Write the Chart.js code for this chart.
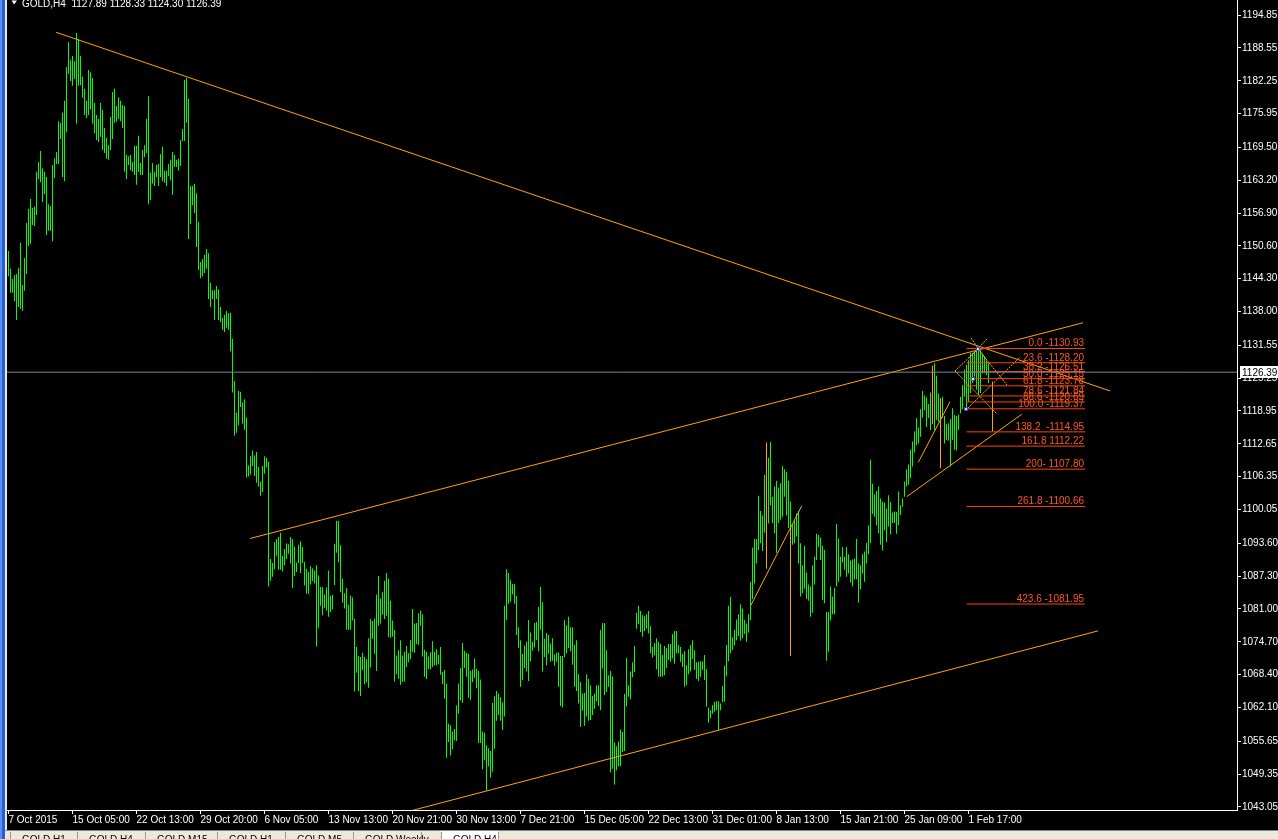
<!DOCTYPE html>
<html>
<head>
<meta charset="utf-8">
<script src="https://cdn.jsdelivr.net/npm/chart.js@4.4.1/dist/chart.umd.min.js"></script>
<style>
  html, body { margin: 0; padding: 0; background: #000; overflow: hidden; }
  canvas { display: block; }
</style>
</head>
<body>
<canvas id="chart" width="1278" height="839"></canvas>
<script>
const symbolTitle = 'GOLD,H4';
const lastOHLC = [1127.89, 1128.33, 1124.30, 1126.39];

const priceTicks = [1194.85, 1188.55, 1182.25, 1175.95, 1169.50, 1163.20, 1156.90, 1150.60, 1144.30,
  1138.00, 1131.55, 1125.25, 1118.95, 1112.65, 1106.35, 1100.05, 1093.60, 1087.30, 1081.00,
  1074.70, 1068.40, 1062.10, 1055.65, 1049.35, 1043.05];
const dateLabels = ['7 Oct 2015', '15 Oct 05:00', '22 Oct 13:00', '29 Oct 20:00', '6 Nov 05:00',
  '13 Nov 13:00', '20 Nov 21:00', '30 Nov 13:00', '7 Dec 21:00', '15 Dec 05:00', '22 Dec 13:00',
  '31 Dec 01:00', '8 Jan 13:00', '15 Jan 21:00', '25 Jan 09:00', '1 Feb 17:00'];
const dateTickStep = 32; // bars between time labels

// H4 bar highs, oldest first
const highs = [
  1149.6,1146.2,1144.3,1145.0,1145.2,1146.4,1151.2,1143.1,1148.3,1155.0,
  1157.7,1159.6,1157.9,1158.1,1164.8,1166.7,1168.8,1165.5,1164.8,1163.8,
  1158.6,1158.2,1166.1,1167.4,1168.6,1174.5,1174.2,1176.1,1178.4,1184.9,
  1189.7,1186.2,1187.0,1186.0,1191.4,1190.3,1187.0,1183.0,1180.7,1178.4,
  1184.3,1183.9,1182.8,1178.0,1175.7,1174.9,1178.0,1176.7,1173.2,1171.3,
  1169.9,1175.3,1180.1,1180.7,1177.4,1179.1,1178.4,1177.6,1177.4,1168.0,
  1167.8,1168.0,1166.7,1169.8,1169.8,1171.7,1166.5,1169.0,1169.9,1174.9,
  1179.3,1164.6,1166.5,1164.8,1166.1,1166.3,1168.2,1169.6,1165.0,1165.0,
  1166.3,1167.1,1168.6,1168.0,1167.1,1167.3,1170.9,1173.0,1182.4,1182.8,
  1178.8,1162.1,1162.1,1162.5,1160.7,1155.2,1147.5,1148.1,1148.9,1150.0,
  1149.2,1143.5,1142.1,1142.1,1142.9,1142.3,1138.9,1136.8,1137.4,1138.1,
  1137.7,
  1137.8,1132.8,1124.7,1118.6,1122.8,1122.6,1120.6,1121.2,1117.7,1108.5,
  1110.3,1111.4,1110.4,1111.1,1108.2,1105.4,1108.4,1110.3,1110.0,1109.2,
  1090.6,1089.8,1093.8,1094.4,1094.8,1095.6,1091.2,1092.5,1093.6,1093.4,
  1094.8,1094.4,1093.0,1089.9,1093.3,1094.0,1092.9,1090.0,1088.7,1088.1,
  1089.2,1088.8,1088.4,1089.4,1087.4,1085.2,1085.2,1083.8,1085.1,1088.4,
  1083.5,1083.7,1093.5,1097.9,1097.9,1093.2,1086.8,1084.0,1085.0,1081.8,
  1083.6,1083.2,1079.2,1073.7,1072.0,1071.8,1072.6,1071.8,1071.4,1075.4,
  1079.1,1078.7,1079.2,1083.8,1087.3,1083.0,1084.3,1086.4,1087.9,1086.8,
  1082.6,1078.8,1077.0,1072.1,1073.1,1075.0,1072.1,1072.8,1073.9,1072.5,
  1075.0,1081.0,1078.2,1078.3,1080.2,1080.7,1080.0,1073.2,1072.8,1071.9,
  1072.7,1074.8,1072.8,1073.3,1072.2,1073.7,1068.9,1069.3,1066.7,1059.0,
  1058.7,1057.5,1058.0,1062.5,1066.7,1069.7,1074.5,1073.0,1072.6,1072.4,
  1069.1,1069.4,1071.5,1069.5,1069.1,1067.5,1057.5,1057.3,1054.9,1054.3,
  1053.8,1063.0,1064.3,1065.3,1064.8,1064.1,1063.1,1081.6,1088.6,1087.9,
  1086.5,1085.8,1085.8,1083.5,1077.5,1075.0,1072.4,1074.0,1074.7,1078.9,
  1076.5,1074.7,1078.3,1078.5,1081.4,1085.2,1082.3,1075.3,1076.4,1076.0,
  1074.4,1075.4,1072.3,1072.6,1072.7,1072.0,1072.0,1078.9,1077.9,1079.5,
  1077.5,1077.5,1074.1,1075.0,1068.5,1067.0,1064.8,1064.9,1068.5,1067.6,
  1066.4,1064.3,1064.8,1066.4,1066.4,1077.0,1078.3,1078.3,1073.1,1068.3,
  1069.1,1068.1,1055.4,1054.7,1055.6,1057.9,1057.4,1064.7,1071.6,1066.4,
  1069.0,1070.8,1073.9,1080.3,1081.6,1080.6,1079.8,1079.6,1080.0,1080.6,
  1077.7,1073.7,1074.5,1075.4,1074.7,1074.3,1072.2,1073.9,1073.5,1074.3,
  1074.3,1076.2,1076.8,1076.8,1074.1,1073.7,1072.4,1072.9,1070.2,1073.3,
  1074.1,1075.0,1073.1,1070.8,1070.9,1071.0,1071.0,1072.2,1069.5,1062.1,
  1061.6,1062.6,1063.2,1063.3,1063.3,1062.9,1066.2,1070.1,1074.1,1081.6,
  1083.3,1075.6,1077.0,1079.0,1080.0,
  1081.9,1081.1,1078.9,1078.2,1080.0,1086.2,1092.8,1094.4,1094.4,1102.7,
  1099.8,1098.9,1106.7,1104.0,1110.0,1113.0,1102.5,1104.5,1105.6,1104.3,
  1105.1,1108.4,1107.8,1107.3,1105.6,1101.6,1097.4,1098.1,1099.3,1099.8,
  1093.6,1089.4,1093.1,1088.0,1085.7,1085.3,1089.4,1091.0,1095.4,1095.2,
  1094.7,1093.1,1092.3,1080.4,1080.4,1085.3,1083.4,1085.0,1097.3,1094.5,
  1091.0,1092.9,1091.0,1092.9,1091.5,1090.3,1090.5,1090.7,1094.4,1089.7,
  1089.4,1091.5,1092.0,1093.7,1097.0,1109.6,1105.0,1103.0,1103.6,1104.5,
  1102.2,1101.6,1101.4,1100.2,1102.8,1101.5,1099.5,1099.7,1099.6,1103.5,
  1100.9,1102.2,1105.4,1107.8,1108.7,1111.5,1113.1,1115.0,1117.6,1115.8,
  1119.3,1122.8,1121.9,1121.6,1120.3,1122.5,1124.9,1128.1,1125.7,1122.3,
  1121.4,1121.7,1118.0,1116.4,1116.6,1117.4,1119.5,1118.2,1118.0,1118.3,
  1121.7,1123.9,1126.9,
  1127.8,1128.7,1130.1,1130.1,1130.3,1130.5,1130.9,1130.6,1129.7,1129.3,
  1128.7,1128.3
];

// H4 bar lows, oldest first
const lows = [
  1144.8,1141.6,1141.6,1140.0,1136.4,1138.9,1138.5,1138.1,1142.0,1145.2,
  1150.6,1151.0,1154.6,1154.4,1156.5,1163.4,1162.8,1159.0,1160.5,1152.7,
  1153.5,1153.5,1151.5,1163.6,1166.3,1166.3,1171.1,1163.8,1163.0,1172.4,
  1183.6,1182.2,1181.3,1182.6,1174.0,1181.3,1181.4,1179.0,1175.7,1175.1,
  1175.7,1176.8,1174.0,1172.2,1170.9,1170.5,1171.5,1169.0,1168.4,1167.3,
  1167.1,1169.0,1171.1,1174.2,1174.4,1174.9,1174.5,1173.2,1164.8,1163.4,
  1166.1,1165.1,1164.8,1164.2,1162.3,1164.8,1164.2,1164.2,1167.6,1168.4,
  1158.6,1159.4,1162.5,1162.1,1163.8,1162.1,1163.8,1163.0,1162.7,1162.1,
  1164.0,1163.2,1160.4,1165.7,1165.7,1165.0,1165.9,1170.7,1170.7,1174.2,
  1151.9,1154.8,1158.4,1156.9,1150.4,1146.0,1144.4,1144.8,1145.4,1146.2,
  1140.4,1138.9,1140.4,1136.4,1140.4,1136.4,1136.0,1134.5,1134.1,1134.9,
  1134.5,
  1130.4,1122.5,1114.2,1114.8,1116.2,1119.7,1116.5,1115.3,1106.2,1106.4,
  1106.8,1108.4,1106.5,1105.2,1104.5,1102.7,1103.4,1106.9,1108.1,1085.3,
  1086.4,1087.2,1088.6,1091.2,1088.5,1088.5,1088.2,1089.4,1090.6,1091.6,
  1089.7,1085.0,1087.3,1088.1,1089.8,1087.9,1089.8,1085.5,1083.9,1083.9,
  1085.7,1086.3,1085.9,1073.8,1077.4,1081.6,1079.8,1081.2,1080.7,1079.5,
  1080.4,1080.9,1085.6,1091.8,1089.9,1084.2,1082.2,1081.1,1077.0,1077.0,
  1077.0,1078.8,1065.2,1068.8,1065.3,1064.3,1069.3,1066.6,1066.9,1065.9,
  1069.8,1075.3,1072.4,1069.1,1077.8,1078.2,1079.9,1079.1,1079.7,1075.6,
  1075.5,1075.7,1067.1,1068.5,1067.6,1066.5,1067.0,1067.1,1069.9,1070.8,
  1071.4,1072.8,1072.6,1074.3,1074.1,1077.8,1071.9,1068.0,1067.6,1069.5,
  1069.4,1069.9,1070.2,1070.2,1070.4,1068.4,1066.6,1063.8,1052.5,1055.5,
  1052.9,1054.1,1055.8,1055.7,1060.9,1063.5,1063.0,1069.7,1068.0,1064.0,
  1063.6,1067.0,1067.8,1065.8,1055.3,1055.3,1050.3,1052.0,1046.2,1050.8,
  1048.7,1049.8,1054.2,1059.6,1060.7,1059.6,1057.8,1060.4,1078.9,1082.0,
  1082.4,1083.8,1082.0,1076.0,1073.5,1066.1,1067.4,1069.7,1069.0,1067.2,
  1071.0,1073.0,1073.6,1075.0,1072.9,1077.0,1069.0,1071.8,1070.2,1072.4,
  1070.9,1071.1,1070.1,1070.9,1066.1,1062.4,1062.1,1071.8,1072.5,1073.5,
  1072.9,1070.3,1066.1,1065.3,1062.9,1058.4,1061.5,1058.6,1060.4,1059.6,
  1059.7,1060.7,1061.9,1063.3,1062.4,1061.6,1069.6,1064.5,1065.1,1066.1,
  1049.7,1050.4,1047.3,1050.1,1050.8,1050.9,1053.6,1053.8,1062.3,1064.2,
  1063.7,1067.9,1068.9,1077.2,1078.1,1076.6,1075.7,1076.8,1077.2,1076.3,
  1072.5,1071.7,1072.1,1069.4,1068.0,1068.0,1068.0,1068.3,1069.7,1071.2,
  1070.9,1071.5,1070.5,1072.5,1072.5,1070.9,1069.9,1066.1,1066.4,1068.5,
  1069.0,1071.4,1069.3,1067.6,1067.2,1068.0,1069.3,1067.4,1062.3,1059.2,
  1060.0,1060.9,1061.3,1061.6,1057.8,1061.6,1063.1,1063.2,1068.1,1071.0,
  1072.5,1073.2,1074.0,1075.0,1075.8,
  1074.9,1075.4,1076.2,1074.7,1076.5,1078.9,1082.9,1085.9,1089.7,1092.3,
  1093.6,1092.1,1095.6,1095.0,1097.4,1100.9,1097.5,1095.5,1091.8,1097.5,
  1098.1,1098.7,1102.5,1098.9,1096.5,1090.4,1093.3,1093.6,1094.9,1089.7,
  1083.4,1084.0,1084.9,1082.9,1082.6,1079.5,1080.3,1085.7,1090.4,1092.9,
  1090.4,1082.7,1082.1,1071.1,1072.8,1078.8,1080.0,1080.0,1085.3,1086.2,
  1087.2,1089.9,1088.5,1087.2,1087.8,1086.1,1085.3,1086.7,1086.7,1082.2,
  1084.8,1087.8,1086.2,1089.7,1091.5,1093.6,1099.2,1098.7,1097.0,1095.5,
  1093.3,1092.2,1096.1,1093.8,1096.8,1095.3,1097.5,1097.5,1095.4,1097.1,
  1099.0,1100.6,1102.5,1104.5,1104.8,1106.1,1108.3,1111.0,1112.4,1112.7,
  1114.0,1117.7,1119.1,1115.9,1117.6,1115.3,1116.6,1115.3,1117.2,1116.9,
  1117.2,1117.6,1112.7,1113.4,1113.3,1108.3,1113.4,1111.5,1111.4,1115.3,
  1118.5,1119.3,1121.7,
  1119.4,1120.7,1122.4,1124.3,1125.5,1123.0,1122.0,1122.4,1126.2,1126.2,
  1125.8,1124.3
];

// bars drawn in orange (bar index, high, low)
const orangeIdx = [379, 391, 462, 466, 492];
const orangeHigh = [1112.9, 1096.7, 1127.6, 1121.4, 1124.6];
const orangeLow = [1088.7, 1072.0, 1116.4, 1108.0, 1115.0];

// trend lines: [index1, price1, index2, price2]
const trendLines = [
  [23.75, 1191.54, 550.75, 1122.80],
  [120.75, 1094.51, 537.25, 1135.86],
  [195, 1041.7, 544.75, 1076.8],
  [371.25, 1081.76, 396.6, 1100.74],
  [454.9, 1109.12, 470.75, 1120.73],
  [449.1, 1102.52, 506.6, 1118.32]
];
// dotted construction lines round the top
const dottedLines = [
  [473.25, 1126.62, 484.75, 1130.83],
  [473.25, 1126.62, 494.25, 1118.37],
  [484.75, 1130.83, 499.25, 1123.93],
  [478.75, 1119.14, 505.75, 1129.30],
  [481.25, 1132.94, 488.75, 1128.92],
  [489.25, 1132.75, 480.25, 1129.11]
];
const anchorIdx = [484.75, 482.25, 478.75];
const anchorPrice = [1130.83, 1125.09, 1119.33];

// fibonacci levels
const fibPrices = [1130.93, 1128.20, 1126.51, 1125.15, 1123.78, 1121.84, 1120.69, 1119.37,
  1114.95, 1112.22, 1107.80, 1100.66, 1081.95];
const fibLabels = ['0.0 -1130.93', '23.6 -1128.20', '38.2 -1126.51', '50.0 -1125.15',
  '61.8 -1123.78', '78.6 -1121.84', '88.6 -1120.69', '100.0 -1119.37', '138.2  -1114.95',
  '161.8 1112.22', '200- 1107.80', '261.8 -1100.66', '423.6 -1081.95'];
const fibRange = [479, 538.25];

const tabNames = ['GOLD,H1', 'GOLD,H4', 'GOLD,M15', 'GOLD,H1', 'GOLD,M5', 'GOLD,Weekly', '', 'GOLD,H4'];

const FONT = '"Liberation Sans", Arial, sans-serif';
const FS = 10;

function segments(list) {
  const pts = [];
  list.forEach(s => {
    pts.push({x: s[0], y: s[1]}, {x: s[2], y: s[3]}, {x: s[2], y: null});
  });
  return pts;
}

const bars = highs.map((h, i) => ({x: i, y: [lows[i], h]}));
const orangeBars = orangeIdx.map((v, i) => ({x: v, y: [orangeLow[i], orangeHigh[i]]}));
const fibData = segments(fibPrices.map(p => [fibRange[0], p, fibRange[1], p]));

const backdrop = {
  id: 'backdrop',
  beforeDraw(chart) {
    const ctx = chart.ctx;
    ctx.save();
    ctx.fillStyle = '#000';
    ctx.fillRect(0, 0, chart.width, chart.height);
    ctx.restore();
  }
};

const overlay = {
  id: 'overlay',
  afterDraw(chart) {
    const {ctx, scales: {x, y}} = chart;
    ctx.save();

    // fibo labels
    ctx.font = FS + 'px ' + FONT;
    ctx.fillStyle = '#FF5522';
    ctx.textAlign = 'right';
    ctx.textBaseline = 'alphabetic';
    const fx = Math.round(x.getPixelForValue(fibRange[1])) - 1;
    fibPrices.forEach((p, i) => {
      ctx.fillText(fibLabels[i], fx, Math.round(y.getPixelForValue(p)) - 2);
    });

    // current price box
    const py = Math.round(y.getPixelForValue(lastOHLC[3]));
    ctx.fillStyle = '#fff';
    ctx.fillRect(y.left + 3, py - 6, chart.width - y.left - 3, 12);
    ctx.fillStyle = '#000';
    ctx.textAlign = 'left';
    ctx.font = FS + 'px ' + FONT;
    ctx.fillText(lastOHLC[3].toFixed(2), y.left + 5, py + 4);

    // header
    ctx.fillStyle = '#fff';
    ctx.beginPath();
    ctx.moveTo(11.5, 0.5); ctx.lineTo(17, 0.5); ctx.lineTo(14.2, 4.5); ctx.closePath();
    ctx.fill();
    ctx.font = FS + 'px ' + FONT;
    ctx.fillText(symbolTitle + '  ' + lastOHLC.map(v => v.toFixed(2)).join(' '), 22, 6.5);

    // window frame on the left
    ctx.fillStyle = '#5b8ef0';
    ctx.fillRect(0, 0, 2, chart.height);
    ctx.fillStyle = '#2160dc';
    ctx.fillRect(2, 0, 3, chart.height);
    ctx.fillStyle = '#e8e8e8';
    ctx.fillRect(5, 0, 2, 830);

    // tab bar
    ctx.fillStyle = '#8a8a8a';
    ctx.fillRect(5, 830, chart.width - 5, 1);
    ctx.fillStyle = '#ECE9D8';
    ctx.fillRect(5, 831, chart.width - 5, 8);
    const seps = [10, 77, 145, 217, 285, 353, 421, 441, 498];
    ctx.fillStyle = '#fff';
    ctx.fillRect(441, 831, 57, 8);
    ctx.fillStyle = '#9a9a90';
    seps.forEach(sx => ctx.fillRect(sx, 832, 1, 7));
    ctx.fillStyle = '#000';
    ctx.font = FS + 'px ' + FONT;
    ctx.textBaseline = 'top';
    tabNames.forEach((t, i) => {
      if (t) ctx.fillText(t, seps[i] + 12, 835);
    });
    ctx.restore();
  }
};

new Chart(document.getElementById('chart'), {
  type: 'bar',
  data: {
    datasets: [
      {
        label: 'anchors',
        type: 'line',
        data: anchorIdx.map((v, i) => ({x: v, y: anchorPrice[i]})),
        showLine: false,
        pointStyle: 'rect',
        pointRadius: 2,
        pointBackgroundColor: '#ffffff',
        pointBorderColor: '#3040ff',
        pointBorderWidth: 1,
        order: 0
      },
      {
        label: 'price',
        type: 'line',
        data: [{x: -1, y: lastOHLC[3]}, {x: 620, y: lastOHLC[3]}],
        borderColor: '#778899',
        borderWidth: 1,
        pointRadius: 0,
        order: 1
      },
      {
        label: 'fibo',
        type: 'line',
        data: fibData,
        borderColor: '#FF4500',
        borderWidth: 1,
        pointRadius: 0,
        spanGaps: false,
        order: 2
      },
      {
        label: 'trend',
        type: 'line',
        data: segments(trendLines),
        borderColor: '#FFA500',
        borderWidth: 1,
        pointRadius: 0,
        spanGaps: false,
        order: 3
      },
      {
        label: 'dotted',
        type: 'line',
        data: segments(dottedLines),
        borderColor: '#FFB020',
        borderWidth: 1,
        borderDash: [2, 1],
        pointRadius: 0,
        spanGaps: false,
        order: 3
      },
      {
        label: 'orange bars',
        data: orangeBars,
        backgroundColor: '#FFA500',
        grouped: false,
        maxBarThickness: 1,
        order: 4
      },
      {
        label: symbolTitle,
        data: bars,
        backgroundColor: '#00FF00',
        grouped: false,
        maxBarThickness: 1,
        order: 5
      }
    ]
  },
  options: {
    responsive: false,
    animation: false,
    devicePixelRatio: 1,
    events: [],
    layout: { autoPadding: false, padding: { left: 7, top: 0, right: 0, bottom: 13 } },
    plugins: { legend: { display: false }, tooltip: { enabled: false } },
    scales: {
      x: {
        type: 'linear',
        min: -0.75,
        max: 614.25,
        bounds: 'data',
        offset: false,
        grid: { display: true, offset: false, drawOnChartArea: false, drawTicks: true, tickLength: 4, color: '#ffffff' },
        border: { display: true, color: '#ffffff', width: 1 },
        afterBuildTicks: s => { s.ticks = dateLabels.map((_, i) => ({ value: i * dateTickStep })); },
        afterFit: s => { s.height = 16; s.paddingLeft = 0; s.paddingRight = 0; },
        ticks: {
          autoSkip: false,
          maxRotation: 0,
          minRotation: 0,
          align: 'start',
          padding: 0,
          color: '#ffffff',
          font: { family: FONT, size: FS },
          callback: v => dateLabels[Math.round(v / dateTickStep)] || ''
        }
      },
      y: {
        position: 'right',
        min: 1042.47,
        max: 1197.73,
        bounds: 'data',
        beginAtZero: false,
        grid: { display: true, drawOnChartArea: false, drawTicks: true, tickLength: 4, color: '#ffffff' },
        border: { display: true, color: '#ffffff', width: 1 },
        afterBuildTicks: s => { s.ticks = priceTicks.map(v => ({ value: v })); },
        afterFit: s => { s.width = 41; s.paddingTop = 0; s.paddingBottom = 0; },
        ticks: {
          autoSkip: false,
          padding: 1,
          color: '#ffffff',
          font: { family: FONT, size: FS },
          callback: v => Number(v).toFixed(2)
        }
      }
    }
  },
  plugins: [backdrop, overlay]
});
</script>
</body>
</html>
